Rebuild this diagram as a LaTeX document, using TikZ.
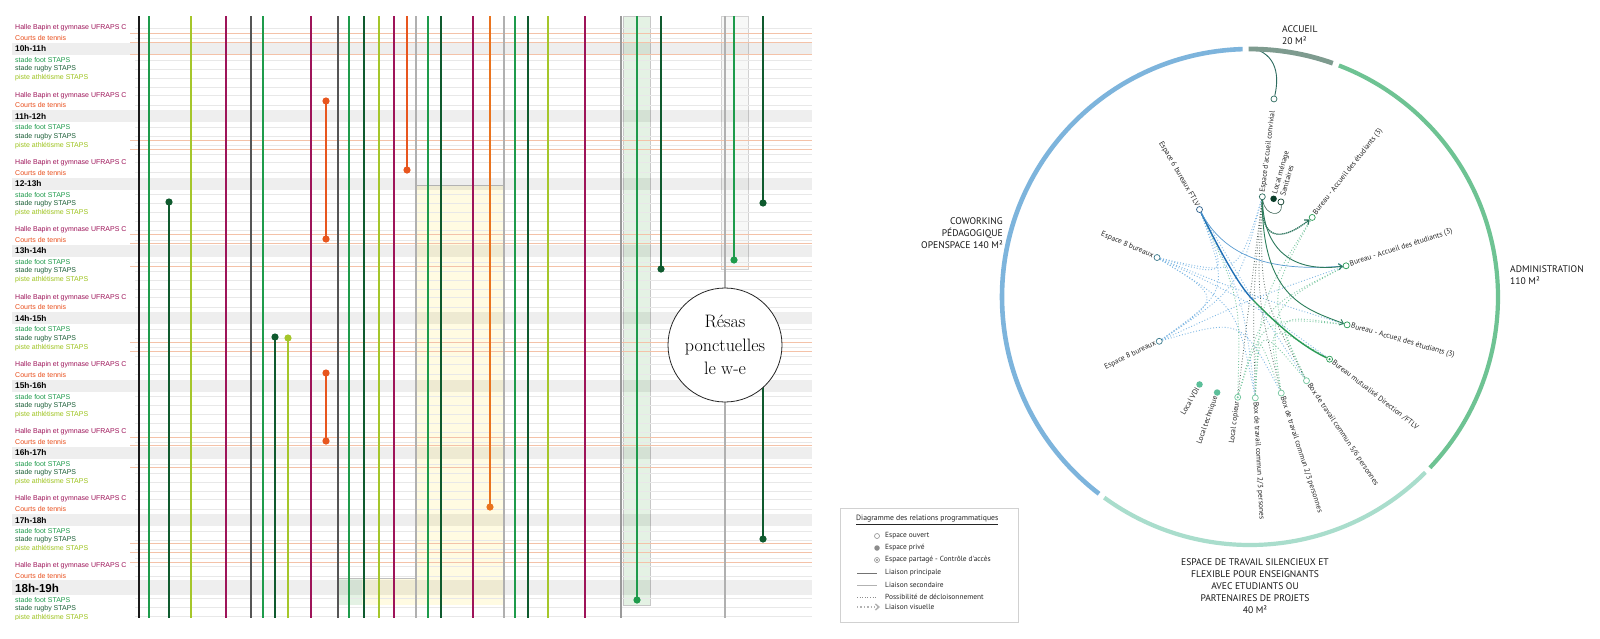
\documentclass[tikz,border=0pt]{standalone}
\usepackage{fontspec}
\newfontfamily\arial{Liberation Sans}
\newfontfamily\pts{PT Sans}
\usetikzlibrary{calc,arrows.meta}
\pgfdeclarelayer{back}\pgfdeclarelayer{bg}\pgfsetlayers{back,bg,main}
\definecolor{cblk}{HTML}{1A1A1A}
\definecolor{cgrn}{HTML}{1E9B4B}
\definecolor{cdkg}{HTML}{0F5A2E}
\definecolor{cyg}{HTML}{A5C62A}
\definecolor{cmag}{HTML}{9E1459}
\definecolor{cdgr}{HTML}{555555}
\definecolor{corg}{HTML}{E8561E}
\definecolor{corg2}{HTML}{E9731E}
\definecolor{clgr}{HTML}{B0B0B0}
\definecolor{cgr2}{HTML}{9A9A9A}
\definecolor{torgl}{HTML}{F4C2A8}
\definecolor{yelbg}{HTML}{FFFBE2}
\definecolor{grnbg}{HTML}{E4F2E4}
\definecolor{tmag}{HTML}{9E1459}
\definecolor{torgt}{HTML}{E94E1B}
\definecolor{tgrn}{HTML}{1E9B4B}
\definecolor{tdkg}{HTML}{1A5E36}
\definecolor{tyg}{HTML}{9DC31C}
\definecolor{arcblue}{HTML}{7DB4DC}
\definecolor{arcacc}{HTML}{7E9B8F}
\definecolor{arcadm}{HTML}{6EC393}
\definecolor{arcesp}{HTML}{A9DDCC}
\definecolor{cacc}{HTML}{2D6B5F}
\definecolor{cftlv}{HTML}{2B5F8A}
\definecolor{ce8}{HTML}{3B7A8C}
\definecolor{cteal}{HTML}{5CBF9A}
\definecolor{cboxg}{HTML}{72C59D}
\definecolor{cbur}{HTML}{2A9A55}
\definecolor{cmen}{HTML}{0B3D2A}
\definecolor{cbluel}{HTML}{1F6FB5}
\definecolor{dotb}{HTML}{7FB8E4}
\definecolor{dotg}{HTML}{7CC8A2}
\definecolor{dotk}{HTML}{56655E}
\tikzset{
  ltxt/.style={anchor=west, inner sep=0pt, font=\arial\fontsize{7}{8}\selectfont},
  htxt/.style={anchor=west, inner sep=0pt, font=\arial\bfseries\fontsize{8.3}{9}\selectfont},
  vl/.style={line width=2.4pt},
  hor/.style={torgl, line width=0.8pt},
  faint/.style={black!9, line width=0.4pt},
  lbl/.style={inner sep=1pt, text=black!85, font=\pts\fontsize{7.5}{8.6}\selectfont},
  cat/.style={inner sep=0pt, text=black!90, font=\pts\fontsize{9.6}{12}\selectfont},
  nopen/.style={circle, draw, fill=white, inner sep=0pt, minimum size=6pt, line width=0.7pt},
  npriv/.style={circle, inner sep=0pt, minimum size=6.5pt},
  nshared/.style={nopen, path picture={\fill[#1] (path picture bounding box.center) circle[radius=1.2pt];}},
  chord/.style={to path={.. controls ($.15*(\tikztostart)+.15*(\tikztotarget)+.7*(O)$) .. (\tikztotarget)}},
  decb/.style={dotb, dotted, line width=0.9pt},
  decg/.style={dotg, dotted, line width=0.9pt},
  deck/.style={dotk, dotted, line width=0.8pt},
  barb/.style={-{Straight Barb[length=3.5pt,width=6pt]}},
  legt/.style={anchor=west, inner sep=0pt, text=black!85, font=\pts\fontsize{7.4}{8}\selectfont},
}
\begin{document}
\begin{tikzpicture}[x=1pt,y=-1pt]
\useasboundingbox (0,0) rectangle (1600,638);
\begin{pgfonlayer}{back}
\fill[white] (0,0) rectangle (1600,638);
\end{pgfonlayer}
% ================= LEFT PANEL =================
\begin{scope}
\clip (0,0) rectangle (830,619);
\fill[yelbg] (416,185) rectangle (504,605);
\draw[black!25, line width=0.8pt] (416,185) -- (504,185);
\fill[yelbg] (338,578) rectangle (416,605);
\fill[grnbg] (338,578) rectangle (362,605);
\draw[black!25, line width=0.8pt] (338,578) -- (416,578);
\filldraw[fill=grnbg, draw=black!22, line width=0.8pt] (623,16) rectangle (650,605);
\filldraw[fill=grnbg!70!black!8, draw=black!18, line width=0.8pt] (721,16) rectangle (748,269);
\foreach \k in {0,...,7} {\fill[black, opacity=.065] (12,{43+67.3*\k}) rectangle (812,{55+67.3*\k});}
\fill[black, opacity=.065] (12,580) rectangle (812,595);
\foreach \k in {0,...,8} {\foreach \o in {0,10,32,41,50,59} {\draw[faint] (135,{28+67.3*\k+\o}) -- (812,{28+67.3*\k+\o});}}
\foreach \y in {33,42,54,140,149,234,243,266,342,351,437,445,467,543,552,562} {\draw[hor] (130,\y) -- (812,\y);}
% labels
\foreach \k/\h in {0/10h-11h,1/11h-12h,2/12-13h,3/13h-14h,4/14h-15h,5/15h-16h,6/16h-17h,7/17h-18h}{
  \pgfmathsetmacro\yy{28+67.3*\k}
  \node[ltxt, text=tmag] (ha\k) at (15,\yy) {Halle Bapin et gymnase UFRAPS C};
  \node[ltxt, text=torgt] (co\k) at (15,\yy+10) {Courts de tennis};
  \node[htxt] (hr\k) at (15,\yy+21) {\h};
  \node[ltxt, text=tgrn] (fo\k) at (15,\yy+32) {stade foot STAPS};
  \node[ltxt, text=tdkg] (ru\k) at (15,\yy+41) {stade rugby STAPS};
  \node[ltxt, text=tyg] (pi\k) at (15,\yy+50) {piste athlétisme STAPS};
}
\node[ltxt, text=tmag] (ha8) at (15,566) {Halle Bapin et gymnase UFRAPS C};
\node[ltxt, text=torgt] (co8) at (15,576) {Courts de tennis};
\node[anchor=west, inner sep=0pt, font=\arial\bfseries\fontsize{11.6}{12}\selectfont] (hr8) at (15,588) {18h-19h};
\node[ltxt, text=tgrn] (fo8) at (15,600) {stade foot STAPS};
\node[ltxt, text=tdkg] (ru8) at (15,609) {stade rugby STAPS};
\node[ltxt, text=tyg] (pi8) at (15,618) {piste athlétisme STAPS};
% vertical lines
\draw[cblk, line width=1.8pt] (139,16) -- (139,618);
\foreach \x/\c in {149/cgrn,191/cyg,226/cmag,263/cgrn,311/cmag,349/cgrn,364/cdkg,379/cyg,394/cmag,428/cgrn,441/cdkg,473/cmag,515/cgrn,528/cdkg,548/cyg,585/cmag}
  {\draw[vl,\c] (\x,16) -- (\x,618);}
\foreach \x in {251,338} {\draw[cdgr, line width=1.3pt] (\x,16) -- (\x,618);}
\foreach \x in {416,504,725} {\draw[clgr, line width=1.2pt] (\x,16) -- (\x,618);}
\draw[cgr2, line width=2.6pt] (621,16) -- (621,618);
% lines with dots
\draw[vl,cdkg] (169,202) -- (169,618); \fill[cdkg] (169,202) circle[radius=3.6pt];
\draw[vl,cdkg] (275,337) -- (275,618); \fill[cdkg] (275,337) circle[radius=3.6pt];
\draw[vl,cyg] (288,338) -- (288,618); \fill[cyg] (288,338) circle[radius=3.6pt];
\draw[vl,corg] (326,101) -- (326,239); \fill[corg] (326,101) circle[radius=3.6pt]; \fill[corg] (326,239) circle[radius=3.6pt];
\draw[vl,corg] (326,373) -- (326,441); \fill[corg] (326,373) circle[radius=3.6pt]; \fill[corg] (326,441) circle[radius=3.6pt];
\draw[vl,corg] (407,16) -- (407,170); \fill[corg] (407,170) circle[radius=3.6pt];
\draw[vl,corg2] (490,16) -- (490,507); \fill[corg2] (490,507) circle[radius=3.6pt];
\draw[vl,cgrn] (637,16) -- (637,600); \fill[cgrn] (637,600) circle[radius=3.6pt];
\draw[vl,cdkg] (661,16) -- (661,269); \fill[cdkg] (661,269) circle[radius=3.6pt];
\draw[vl,cgrn] (734,16) -- (734,260); \fill[cgrn] (734,260) circle[radius=3.6pt];
\draw[vl,cdkg] (763,16) -- (763,203); \fill[cdkg] (763,203) circle[radius=3.6pt];
\draw[vl,cdkg] (763,360) -- (763,539); \fill[cdkg] (763,539) circle[radius=3.6pt];
\node[circle, draw=black!85, line width=0.8pt, fill=white, minimum size=114pt, inner sep=0pt, align=center,
      font=\fontsize{18}{23.5}\selectfont] (resas) at (725,345) {Résas\\ponctuelles\\le w-e};
\end{scope}
% ================= LEGEND =================
\draw[black!18, line width=0.6pt] (840,508) rectangle (1018,622);
\node[legt, font=\pts\fontsize{7.7}{8}\selectfont] (lgt) at (856,520) {\underline{Diagramme des relations programmatiques}};
\node[nopen, draw=black!45, minimum size=5pt, line width=0.6pt] (lg1) at (877,536) {};
\node[npriv, fill=black!45, minimum size=5.5pt] (lg2) at (877,548) {};
\node[nshared=black!45, draw=black!45, minimum size=5pt, line width=0.6pt] (lg3) at (877,560) {};
\node[legt] (lt1) at (885,536) {Espace ouvert};
\node[legt] (lt2) at (885,548) {Espace privé};
\node[legt] (lt3) at (885,560) {Espace partagé - Contrôle d'accès};
\coordinate (la1) at (857,573); \coordinate (lb1) at (877,573);
\coordinate (la2) at (857,585); \coordinate (lb2) at (877,585);
\coordinate (la3) at (857,597); \coordinate (lb3) at (877,597);
\coordinate (la4) at (857,607); \coordinate (lb4) at (880,607);
\draw[black!55, line width=0.6pt] (la1) -- (lb1);
\draw[black!30, line width=0.6pt] (la2) -- (lb2);
\draw[black!45, dotted, line width=0.6pt] (la3) -- (lb3);
\draw[black!30, dotted, line width=1.4pt, barb] (la4) -- (lb4);
\node[legt] (lt4) at (885,573) {Liaison principale};
\node[legt] (lt5) at (885,585) {Liaison secondaire};
\node[legt] (lt6) at (885,597) {Possibilité de décloisonnement};
\node[legt] (lt7) at (885,607) {Liaison visuelle};
% ================= CIRCLE DIAGRAM =================
\begin{scope}[shift={(1250,297)}, x=1pt, y=1pt]
\coordinate (O) at (0,0);
\draw[arcblue, line width=4.6pt] (91.7:248) arc[start angle=91.7, end angle=232.5, radius=248];
\draw[arcesp, line width=4.2pt] (234:248) arc[start angle=234, end angle=315, radius=248];
\draw[arcadm, line width=4.2pt] (316.5:248) arc[start angle=316.5, end angle=429, radius=248];
\draw[arcacc, line width=4.8pt] (70.5:248) arc[start angle=70.5, end angle=90.3, radius=248];
% category labels
\node[cat, anchor=west, align=left] (tacc) at (32,261.5) {ACCUEIL\\20 M²};
\node[cat, anchor=east, align=right] (tcow) at (-247,63.5) {COWORKING\\PÉDAGOGIQUE\\OPENSPACE 140 M²};
\node[cat, anchor=west, align=left] (tadm) at (260,21.5) {ADMINISTRATION\\110 M²};
\node[cat, align=center] (tesp) at (5,-289.5) {ESPACE DE TRAVAIL SILENCIEUX ET\\FLEXIBLE POUR ENSEIGNANTS\\AVEC ETUDIANTS OU\\PARTENAIRES DE PROJETS\\40 M²};
% nodes
\node[nopen, draw=cacc] (acc) at (83:101) {};
\node[npriv, fill=cmen] (men) at (76.5:101) {};
\node[nopen, draw=cmen] (san) at (72:100) {};
\node[nopen, draw=cftlv] (ftlv) at (120:101) {};
\node[nopen, draw=ce8] (e8a) at (157:101) {};
\node[nopen, draw=ce8] (e8b) at (206:101) {};
\node[npriv, fill=cteal] (vdi) at (240:101) {};
\node[npriv, fill=cteal] (tech) at (251:101) {};
\node[nshared=cboxg, draw=cboxg] (copi) at (263:101) {};
\node[nopen, draw=cboxg] (box1) at (273:101) {};
\node[nopen, draw=cboxg] (box2) at (288:101) {};
\node[nopen, draw=cboxg] (box3) at (304:101) {};
\node[nshared=cbur, draw=cbur] (mut) at (322:101) {};
\node[nopen, draw=cbur] (bur3) at (344:101) {};
\node[nopen, draw=cbur] (bur2) at (18:101) {};
\node[nopen, draw=cbur] (bur1) at (52:101) {};
\node[nopen, draw=cacc] (topn) at (83.1:199.5) {};
\coordinate (accarc) at (88.8:248);
\coordinate (mid) at (3,-3);
% node labels
\node[lbl, anchor=west, rotate=83] (l1) at (83:104) {Espace d'accueil convivial};
\node[lbl, anchor=west, rotate=74, align=left] (l2) at (74.5:105) {Local ménage\\Sanitaires};
\node[lbl, anchor=east, rotate=-60] (l3) at (120:104) {Espace 6 bureaux FTLV};
\node[lbl, anchor=east, rotate=-23] (l4) at (157:104) {Espace 8 bureaux};
\node[lbl, anchor=east, rotate=26] (l5) at (206:104) {Espace 8 bureaux};
\node[lbl, anchor=east, rotate=60] (l6) at (240:104) {Local VDI};
\node[lbl, anchor=east, rotate=71] (l7) at (251:104) {Local technique};
\node[lbl, anchor=east, rotate=83] (l8) at (263:104) {Local copieur};
\node[lbl, anchor=west, rotate=-87] (l9) at (273:104) {Box de travail commun 2/3 persones};
\node[lbl, anchor=west, rotate=-72] (l10) at (288:104) {Box de travail commun 2/3 personnes};
\node[lbl, anchor=west, rotate=-56] (l11) at (304:104) {Box de travail commun 5/6 personnes};
\node[lbl, anchor=west, rotate=-38] (l12) at (322:104) {Bureau mutualisé Direction /FTLV};
\node[lbl, anchor=west, rotate=-16] (l13) at (344:104) {Bureau - Accueil des étudiants (3)};
\node[lbl, anchor=west, rotate=18] (l14) at (18:104) {Bureau - Accueil des étudiants (3)};
\node[lbl, anchor=west, rotate=52] (l15) at (52:104) {Bureau - Accueil des étudiants (3)};
% connectors
\begin{pgfonlayer}{bg}
\draw[decb] (e8a) to[chord] (e8b);
\draw[decb] (e8a) to[chord] (ftlv);
\draw[decb] (e8a) to[chord] (acc);
\draw[decb] (e8a) to[chord] (box1);
\draw[decb] (e8a) to[chord] (mut);
\draw[decb] (e8a) to[chord] (bur3);
\draw[decb] (e8b) to[chord] (bur2);
\draw[decb] (e8b) to[chord] (box2);
\draw[decb] (e8b) to[chord] (ftlv);
\draw[decb] (e8b) to[chord] (acc);
\draw[decb] (ftlv) to[chord] (box1);
\draw[decb] (ftlv) to[chord] (box3);
\draw[deck] (acc) to[chord] (copi);
\draw[deck] (acc) to[chord] (box1);
\draw[deck] (acc) to[chord] (box2);
\draw[deck] (acc) to[chord] (box3);
\draw[decg] (box1) to[chord] (box2);
\draw[decg] (box1) to[chord] (box3);
\draw[decg] (box2) to[chord] (bur2);
\draw[decg] (box3) to[chord] (bur1);
\draw[decg] (copi) to[chord] (bur3);
\draw[decg] (copi) to[chord] (bur2);
\draw[decg] (box2) to[chord] (mut);
\draw[decg] (box3) to[chord] (bur3);
\draw[decg] (box1) to[chord] (bur1);
\draw[decg] (copi) to[chord] (ftlv);
% main links
\draw[cacc, line width=0.9pt] (accarc) .. controls (30,240) and (28,215) .. (topn);
\draw[cmen!80, line width=0.6pt] (acc) .. controls (15,80) and (33,80) .. (san);
\draw[cbluel, line width=1.4pt] (ftlv) .. controls (-32,50) and (-12,12) .. (mid);
\draw[cbur, line width=1.4pt] (mid) .. controls (16,-16) and (45,-46) .. (mut);
\draw[dotb!60!cbluel, line width=0.7pt, barb] (ftlv) .. controls (-25,40) and (20,25) .. (bur2);
\draw[cacc!80!cbur, line width=1.3pt, dash pattern=on 1.3pt off 0.7pt, barb] (acc) .. controls (10,50) and (38,60) .. (bur1);
\draw[cacc!70!cbur, line width=0.9pt, barb] (acc) .. controls (14,40) and (50,25) .. (bur2);
\draw[cacc!60!cbur, line width=0.9pt, barb] (acc) .. controls (12,0) and (55,-12) .. (bur3);
\end{pgfonlayer}
\end{scope}
\end{tikzpicture}
\end{document}
